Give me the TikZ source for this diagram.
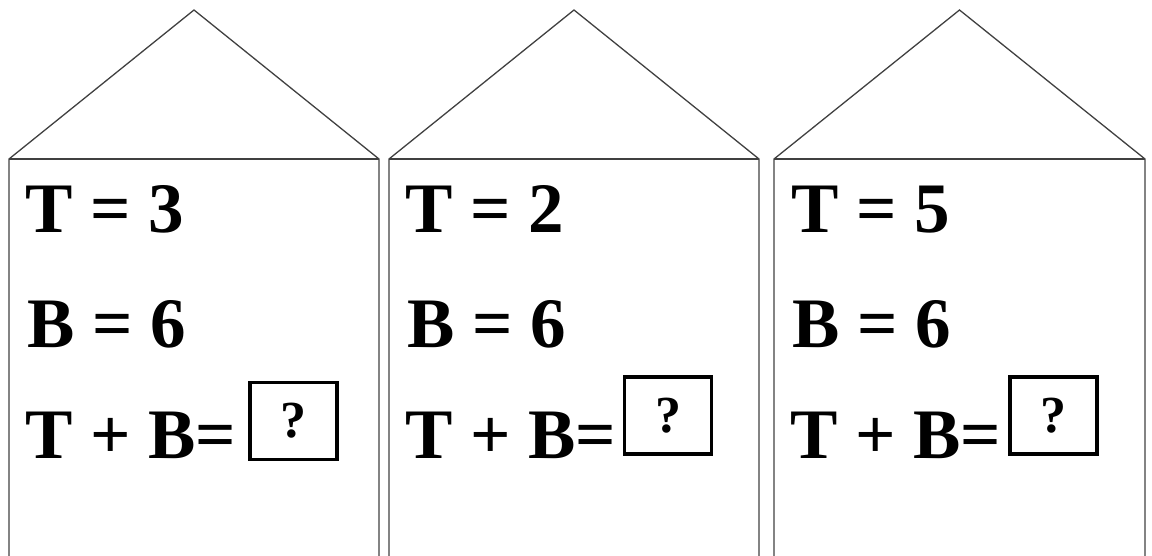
\documentclass[tikz,border=0pt]{standalone}
\usepackage{fontspec}
\setmainfont{Liberation Serif}
\usetikzlibrary{positioning}
\tikzset{
  wall/.style={draw=black!75, line width=1.3pt},
  eqline/.style={
    anchor=base west, inner sep=0pt,
    font=\fontsize{71}{71}\selectfont\bfseries
  },
  qbox/.style={
    rectangle, draw=black, line width=3.5pt,
    minimum width=87pt, minimum height=77pt, inner sep=0pt,
    font=\fontsize{52}{52}\selectfont\bfseries
  },
}
\begin{document}
\begin{tikzpicture}[x=1pt,y=-1pt]
  \useasboundingbox (0,0) rectangle (1152,556);
  % house 1
  \draw[wall] (9,556) -- (9,159) -- (194,10) -- (379,159) -- (379,556);
  \draw[wall] (9,159) -- (379,159);
  \node[eqline] (t1) at (25,233) {T = 3};
  \node[eqline] (b1) at (27,347) {B = 6};
  \node[eqline] (s1) at (25,458) {T + B=};
  \node[qbox] (q1) at (293.5,421) {?};
  % house 2
  \draw[wall] (389,556) -- (389,159) -- (574,10) -- (759,159) -- (759,556);
  \draw[wall] (389,159) -- (759,159);
  \node[eqline] (t2) at (405,233) {T = 2};
  \node[eqline] (b2) at (407,347) {B = 6};
  \node[eqline] (s2) at (405,458) {T + B=};
  \node[qbox] (q2) at (668,415.5) {?};
  % house 3
  \draw[wall] (774,556) -- (774,159) -- (959.5,10) -- (1145,159) -- (1145,556);
  \draw[wall] (774,159) -- (1145,159);
  \node[eqline] (t3) at (791,233) {T = 5};
  \node[eqline] (b3) at (792,347) {B = 6};
  \node[eqline] (s3) at (790,458) {T + B=};
  \node[qbox] (q3) at (1053.5,415.5) {?};
\end{tikzpicture}
\end{document}
